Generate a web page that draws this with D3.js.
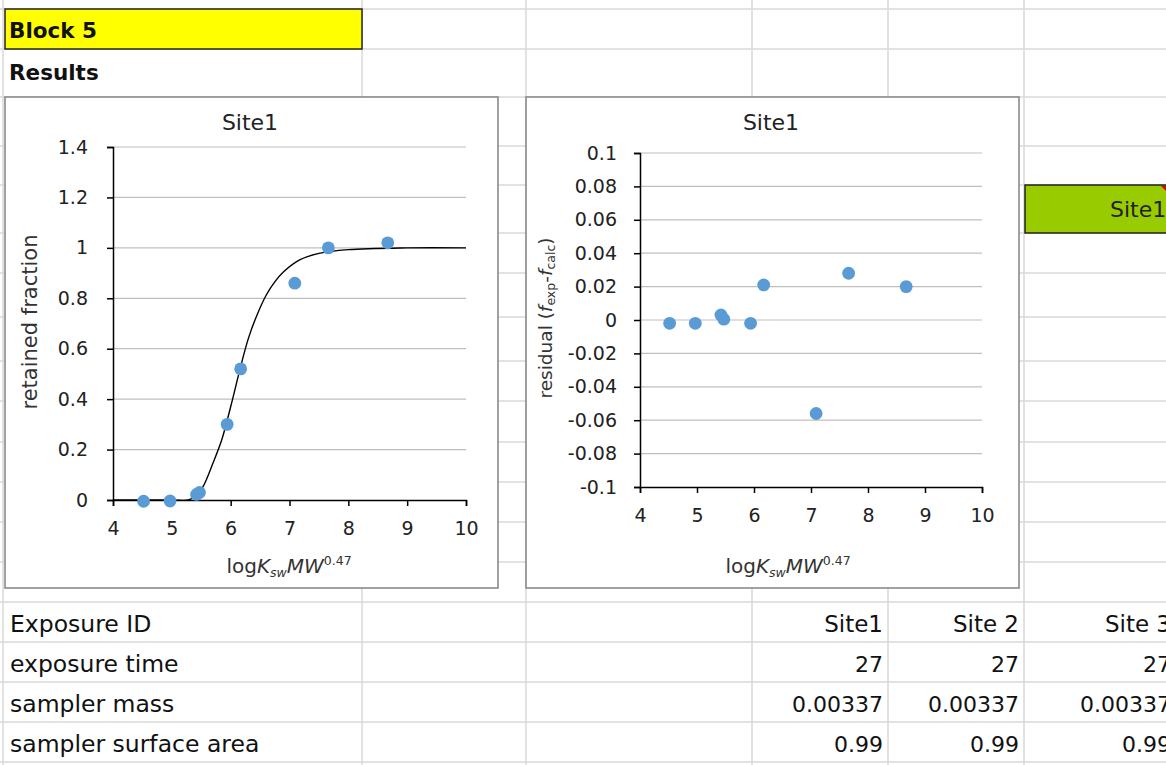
<!DOCTYPE html>
<html><head><meta charset="utf-8">
<script src="https://cdn.jsdelivr.net/npm/d3@7"></script>
<style>
html,body{margin:0;padding:0;background:#fff;overflow:hidden}
text{font-family:"DejaVu Sans",Lato,sans-serif}
</style>
</head><body>
<svg id="c" width="1166" height="765"></svg>
<script>
// ---- data ----
const logX = [4.52, 4.97, 5.42, 5.47, 5.94, 6.17, 7.09, 7.66, 8.67];
const retainedFraction = [-0.005, -0.004, 0.022, 0.03, 0.30, 0.52, 0.86, 1.0, 1.02];
const residuals = [-0.002, -0.002, 0.003, 0.0005, -0.002, 0.021, -0.056, 0.028, 0.020];
const fitX = [4, 5, 5.28, 5.4, 5.53, 5.7, 5.85, 6.0, 6.16, 6.3, 6.45, 6.61, 6.75, 6.9, 7.18, 7.5, 8, 9, 10];
const fitY = [0, 0, 0, 0.015, 0.053, 0.147, 0.24, 0.37, 0.52, 0.64, 0.735, 0.815, 0.865, 0.905, 0.953, 0.978, 0.993, 1, 1];
const xTicks = [4, 5, 6, 7, 8, 9, 10];
const fracTicks = [0, 0.2, 0.4, 0.6, 0.8, 1, 1.2, 1.4];
const residTicks = [-0.1, -0.08, -0.06, -0.04, -0.02, 0, 0.02, 0.04, 0.06, 0.08, 0.1];
const chartTitle = "Site1";
const rowLabels = ["Exposure ID", "exposure time", "sampler mass", "sampler surface area"];
const siteNames = ["Site1", "Site 2", "Site 3"];
const exposureTime = ["27", "27", "27"];
const samplerMass = ["0.00337", "0.00337", "0.00337"];
const surfaceArea = ["0.99", "0.99", "0.99"];

// ---- sheet ----
const svg = d3.select("#c");
const gridColor = "#d9d9d9";
const hLines = [9, 49, 97, 146, 185, 233, 273, 317, 361, 401, 442, 482, 522, 562, 602, 642, 682, 722, 762];
const vLines = [3, 362, 526, 752, 888, 1024];
svg.append("g").selectAll("line").data(hLines).join("line")
  .attr("x1", 0).attr("x2", 1166).attr("y1", d => d).attr("y2", d => d)
  .attr("stroke", gridColor).attr("stroke-width", 1.5);
svg.append("g").selectAll("line").data(vLines).join("line")
  .attr("x1", d => d).attr("x2", d => d).attr("y1", 0).attr("y2", 765)
  .attr("stroke", gridColor).attr("stroke-width", 1.5);

// header cells
svg.append("rect").attr("x", 5).attr("y", 9).attr("width", 357).attr("height", 40)
  .attr("fill", "#ffff00").attr("stroke", "#222").attr("stroke-width", 1.5);
svg.append("text").attr("x", 9).attr("y", 38).attr("font-size", 21.5).attr("font-weight", "bold").attr("fill", "#111").text("Block 5");
svg.append("text").attr("x", 9).attr("y", 80).attr("font-size", 21.5).attr("font-weight", "bold").attr("fill", "#111").text("Results");

// green cell
svg.append("rect").attr("x", 1025).attr("y", 185).attr("width", 160).attr("height", 48)
  .attr("fill", "#99cc00").attr("stroke", "#222").attr("stroke-width", 1.5);
svg.append("text").attr("x", 1110).attr("y", 217).attr("font-size", 22).attr("fill", "#222").text(chartTitle);
svg.append("polygon").attr("points", "1161,186 1166,186 1166,191").attr("fill", "#e00000");

// bottom table
const rowBase = [632, 672, 712, 752];
svg.append("g").selectAll("text").data(rowLabels).join("text")
  .attr("x", 10).attr("y", (d, i) => rowBase[i]).attr("font-size", 23.5).attr("fill", "#111").text(d => d);
const colRight = [883, 1019, 1171];
[siteNames, exposureTime, samplerMass, surfaceArea].forEach((row, r) => {
  svg.append("g").selectAll("text").data(row).join("text")
    .attr("x", (d, i) => colRight[i]).attr("y", rowBase[r]).attr("text-anchor", "end")
    .attr("font-size", r === 0 ? 23 : 22).attr("fill", "#111").text(d => d);
});

// ---- charts ----
function xTitle(g, cx, y) {
  const t = g.append("text").attr("x", cx).attr("y", y).attr("text-anchor", "middle")
    .attr("font-size", 20).attr("fill", "#333");
  t.append("tspan").text("log");
  t.append("tspan").attr("font-style", "italic").text("K");
  t.append("tspan").attr("font-style", "italic").attr("font-size", 12.5).attr("dy", 4).text("sw");
  t.append("tspan").attr("font-style", "italic").attr("dy", -4).text("MW");
  t.append("tspan").attr("font-size", 12.5).attr("dy", -8).text("0.47");
}

function chartFrame(x0) {
  const g = svg.append("g");
  g.append("rect").attr("x", x0).attr("y", 97).attr("width", 493).attr("height", 491)
    .attr("fill", "#fff").attr("stroke", "#8a8a8a").attr("stroke-width", 1.6);
  g.append("text").attr("x", x0 + 245).attr("y", 130).attr("text-anchor", "middle")
    .attr("font-size", 22).attr("fill", "#222").text(chartTitle);
  return g;
}

function styleAxis(a) {
  a.select(".domain").attr("stroke", "#000").attr("stroke-width", 1.5);
  a.selectAll(".tick line").attr("stroke", "#000").attr("stroke-width", 1.5);
  a.selectAll(".tick text").attr("font-size", 19).attr("fill", "#222")
    .attr("font-family", "'DejaVu Sans', Lato, sans-serif");
}

const dotColor = "#5b9bd5";

// Chart 1
{
  const g = chartFrame(5);
  const x = d3.scaleLinear().domain([4, 10]).range([113, 466]);
  const y = d3.scaleLinear().domain([0, 1.4]).range([500, 147]);
  g.append("g").selectAll("line").data(fracTicks.filter(d => d > 0)).join("line")
    .attr("x1", 113).attr("x2", 466).attr("y1", d => y(d)).attr("y2", d => y(d))
    .attr("stroke", "#bfbfbf").attr("stroke-width", 1.2);
  const ay = g.append("g").attr("transform", "translate(113,0)")
    .call(d3.axisLeft(y).tickValues(fracTicks).tickSize(6).tickPadding(19).tickFormat(d => String(+d.toFixed(1))));
  styleAxis(ay);
  const ax = g.append("g").attr("transform", "translate(0,500)")
    .call(d3.axisBottom(x).tickValues(xTicks).tickSize(6).tickPadding(16).tickFormat(d3.format("d")));
  styleAxis(ax);
  const line = d3.line().x((d, i) => x(fitX[i])).y((d, i) => y(fitY[i])).curve(d3.curveCatmullRom.alpha(0.5));
  g.append("path").datum(fitX).attr("d", line).attr("fill", "none").attr("stroke", "#000").attr("stroke-width", 1.4);
  g.append("g").selectAll("circle").data(logX).join("circle")
    .attr("cx", d => x(d)).attr("cy", (d, i) => y(retainedFraction[i])).attr("r", 6.4).attr("fill", dotColor);
  g.append("text").attr("transform", "translate(37,322) rotate(-90)").attr("text-anchor", "middle")
    .attr("font-size", 21).attr("fill", "#333").text("retained fraction");
  xTitle(g, 289, 573);
}

// Chart 2
{
  const g = chartFrame(526);
  const x = d3.scaleLinear().domain([4, 10]).range([640, 982]);
  const y = d3.scaleLinear().domain([-0.1, 0.1]).range([487, 153]);
  g.append("g").selectAll("line").data(residTicks.filter(d => d > -0.1)).join("line")
    .attr("x1", 640).attr("x2", 982).attr("y1", d => y(d)).attr("y2", d => y(d))
    .attr("stroke", "#bfbfbf").attr("stroke-width", 1.2);
  const ay = g.append("g").attr("transform", "translate(640,0)")
    .call(d3.axisLeft(y).tickValues(residTicks).tickSize(6).tickPadding(17).tickFormat(d => String(+d.toFixed(2))));
  styleAxis(ay);
  const ax = g.append("g").attr("transform", "translate(0,487)")
    .call(d3.axisBottom(x).tickValues(xTicks).tickSize(6).tickPadding(16).tickFormat(d3.format("d")));
  styleAxis(ax);
  g.append("g").selectAll("circle").data(logX).join("circle")
    .attr("cx", d => x(d)).attr("cy", (d, i) => y(residuals[i])).attr("r", 6.4).attr("fill", dotColor);
  const t = g.append("text").attr("transform", "translate(552,318) rotate(-90)").attr("text-anchor", "middle")
    .attr("font-size", 18.5).attr("fill", "#333");
  t.append("tspan").text("residual (");
  t.append("tspan").attr("font-style", "italic").text("f");
  t.append("tspan").attr("font-size", 12.5).attr("dy", 3).text("exp");
  t.append("tspan").attr("dy", -3).text("-");
  t.append("tspan").attr("font-style", "italic").text("f");
  t.append("tspan").attr("font-size", 12.5).attr("dy", 3).text("calc");
  t.append("tspan").attr("dy", -3).text(")");
  xTitle(g, 788, 573);
}
</script>
</body></html>
